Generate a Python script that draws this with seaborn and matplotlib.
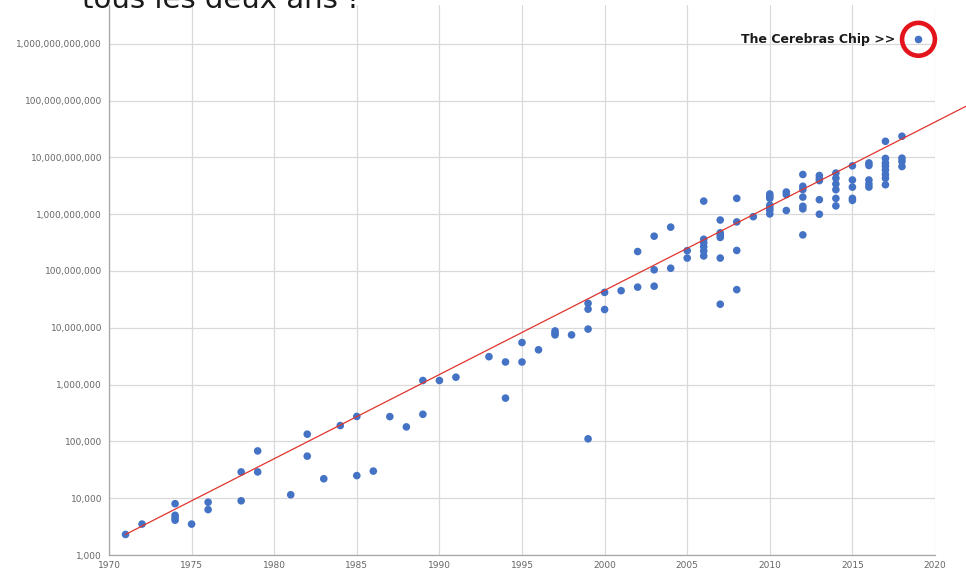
import numpy as np
import matplotlib
matplotlib.use("Agg")
import matplotlib.pyplot as plt
import matplotlib.ticker as mticker
import seaborn as sns

# transistor counts per chip (year, count)
years = [
    1971, 1972,
    1974, 1974, 1974, 1974,
    1975, 1976, 1976,
    1978, 1978, 1979, 1979,
    1981, 1982, 1982, 1983, 1984,
    1985, 1985, 1986, 1987, 1988,
    1989, 1989, 1990, 1991,
    1993, 1994, 1994, 1995, 1995, 1996,
    1997, 1997, 1997, 1998,
    1999, 1999, 1999, 1999,
    2000, 2000, 2001, 2002, 2002,
    2003, 2003, 2003, 2004, 2004, 2005, 2005,
    2006, 2006, 2006, 2006, 2006, 2006,
    2007, 2007, 2007, 2007, 2007, 2007,
    2008, 2008, 2008, 2008, 2009,
    2010, 2010, 2010, 2010, 2010, 2010, 2010,
    2011, 2011, 2011,
    2012, 2012, 2012, 2012, 2012, 2012, 2012,
    2013, 2013, 2013, 2013, 2013,
    2014, 2014, 2014, 2014, 2014, 2014,
    2015, 2015, 2015, 2015, 2015,
    2016, 2016, 2016, 2016, 2016,
    2017, 2017, 2017, 2017, 2017, 2017, 2017, 2017,
    2018, 2018, 2018, 2018,
]
transistors = [
    2300, 3500,
    8000, 5000, 4500, 4100,
    3500, 8500, 6300,
    9000, 29000, 68000, 29000,
    11500, 134000, 55000, 22000, 190000,
    275000, 25000, 30000, 273000, 180000,
    300000, 1180000, 1180000, 1350000,
    3100000, 2500000, 578000, 5500000, 2500000, 4100000,
    8800000, 8000000, 7500000, 7500000,
    27000000, 21300000, 9500000, 111000,
    42000000, 21000000, 45000000, 220000000, 52000000,
    410000000, 105000000, 54000000, 592000000, 112000000, 228000000, 169000000,
    1700000000, 362000000, 314000000, 267000000, 224000000, 184000000,
    789000000, 470000000, 430000000, 390000000, 169000000, 26000000,
    1900000000, 731000000, 230000000, 47000000, 904000000,
    2270000000, 2070000000, 1900000000, 1440000000, 1290000000, 1170000000, 1010000000,
    2460000000, 2220000000, 1160000000,
    5000000000, 3100000000, 2710000000, 2000000000, 1380000000, 1240000000, 432000000,
    4800000000, 4300000000, 3900000000, 1800000000, 1000000000,
    5300000000, 4300000000, 3400000000, 2700000000, 1900000000, 1400000000,
    7100000000, 4000000000, 3000000000, 1900000000, 1750000000,
    8000000000, 7200000000, 4000000000, 3400000000, 3000000000,
    19200000000, 9600000000, 8000000000, 7000000000, 6000000000, 5000000000, 4300000000, 3300000000,
    23600000000, 9700000000, 8500000000, 6900000000,
]

cerebras_year = 2019
cerebras_transistors = 1.2e12
cerebras_label = "The Cerebras Chip >>"

# red trend line (start / end)
trend_years = [1971, 2022]
trend_values = [2300, 8.3e10]

x_ticks = list(range(1970, 2021, 5))
y_ticks = [10 ** k for k in range(3, 13)]

sns.set_theme(style="whitegrid")
plt.rcParams["font.family"] = ["DejaVu Sans"]

fig = plt.figure(figsize=(9.66, 5.75), dpi=100)
ax = fig.add_axes([109 / 966, 20 / 575, 826 / 966, 550 / 575])
ax.set_yscale("log")

sns.scatterplot(x=years, y=transistors, ax=ax, color="#4472C4", s=30,
                edgecolor="none", zorder=3)
sns.lineplot(x=trend_years, y=trend_values, ax=ax, color="#e0342c", lw=0.9, zorder=4)
ax.lines[-1].set_clip_on(False)

# the Cerebras chip, circled in red
ax.scatter(cerebras_year, cerebras_transistors, s=20, color="#4472C4",
           zorder=5, clip_on=False)
ax.scatter(cerebras_year, cerebras_transistors, s=560, facecolors="none",
           edgecolors="#e3141c", linewidths=3.3, zorder=5, clip_on=False)
ax.annotate(cerebras_label, xy=(cerebras_year, cerebras_transistors),
            xytext=(-17, 0), textcoords="offset points", ha="right", va="center",
            fontsize=9, fontweight="bold", color="#1a1a1a")

ax.set_xlim(1970, 2020)
ax.set_ylim(1e3, 10 ** 12.683)
ax.set_xticks(x_ticks)
ax.set_yticks(y_ticks)
ax.yaxis.set_minor_locator(mticker.NullLocator())
ax.yaxis.set_major_formatter(mticker.FuncFormatter(lambda v, p: f"{v:,.0f}"))

ax.grid(True, color="#d9d9d9", lw=0.9)
for side in ["top", "right"]:
    ax.spines[side].set_visible(False)
for side in ["left", "bottom"]:
    ax.spines[side].set_color("#a6a6a6")
    ax.spines[side].set_linewidth(0.9)
ax.tick_params(length=0, labelsize=6.5, labelcolor="#666666")
ax.tick_params(axis="y", pad=5)
ax.tick_params(axis="x", pad=4)
ax.set_xlabel("")
ax.set_ylabel("")

# title cut off at the top of the picture (as in the original)
fig.text(82 / 966, 1 - 8 / 575, "tous les deux ans !", fontsize=21,
         color="#1a1a1a", ha="left", va="baseline")

fig.savefig("out.png", dpi=100)
